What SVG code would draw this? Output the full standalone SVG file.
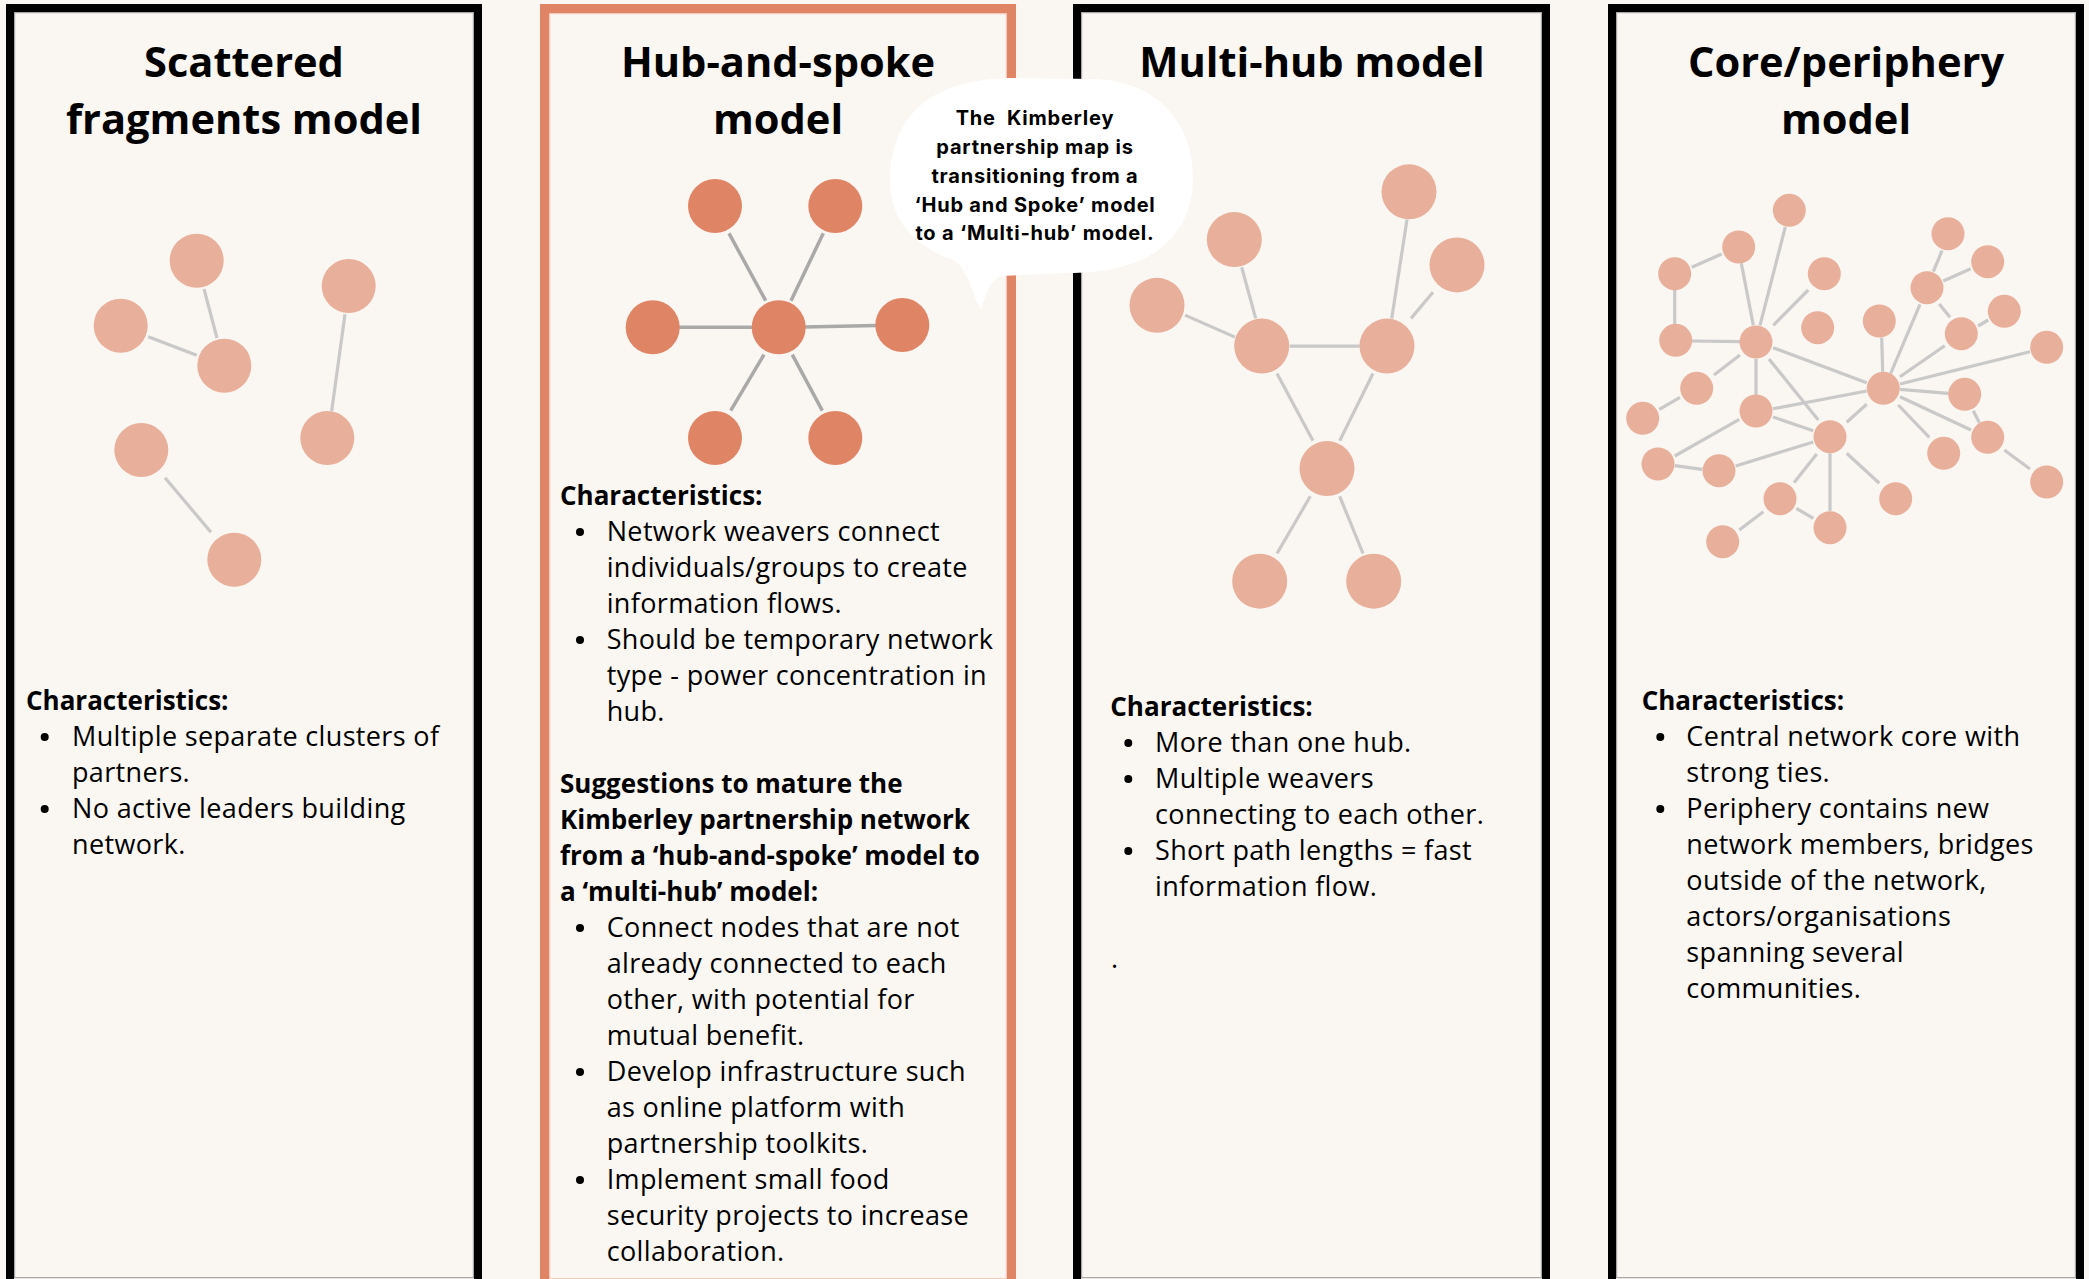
<svg xmlns="http://www.w3.org/2000/svg" width="2089" height="1279" viewBox="0 0 2089 1279">
<style>
.bg{fill:#FAF6F2}
.frame{fill:#FAF6F2;stroke:#000;stroke-width:8}
.frame2{fill:#FAF6F2;stroke:#E08466;stroke-width:9}
.inner{fill:none;stroke:#A8A8A8;stroke-width:1.2}
.inner2{fill:none;stroke:#F2C9BA;stroke-width:1.2}
.title{font-family:"Open Sans","Noto Sans",sans-serif;font-weight:700;font-size:41.6px;fill:#000;text-anchor:middle}
.body{font-family:"Open Sans","Noto Sans",sans-serif;font-size:27px;letter-spacing:0.35px;fill:#000}
.head{font-family:"Open Sans","Noto Sans",sans-serif;font-size:26px;font-weight:700;fill:#000}
.bub{font-family:Inter,"Open Sans",sans-serif;font-size:20px;font-weight:700;letter-spacing:0.8px;fill:#000;text-anchor:middle}
.n{fill:#E8AF9A}
.nd{fill:#E08466}
.e{stroke:#C9C9C9;stroke-width:3.2;fill:none}
.ed{stroke:#A9A9A9;stroke-width:3.5;fill:none}
.b{fill:#000}
</style>
<rect class="bg" x="0" y="0" width="2089" height="1279"/>

<g id="panel-scattered">
<rect class="frame" x="10" y="8" width="468" height="1300"/>
<rect class="inner" x="14.6" y="12.6" width="458.8" height="1265"/>
<text class="title" x="244" y="77">Scattered</text>
<text class="title" x="244" y="134">fragments model</text>
<g id="p1-connectors">
<line class="e" x1="204" y1="289" x2="217" y2="338"/>
<line class="e" x1="148.3" y1="336.7" x2="196.7" y2="355.3"/>
<line class="e" x1="345" y1="314.3" x2="331.7" y2="411"/>
<line class="e" x1="165" y1="477.7" x2="211" y2="532.3"/>
</g>
<g id="p1-n1"><circle class="n" cx="196.7" cy="260.7" r="27"/></g>
<g id="p1-n2"><circle class="n" cx="120.7" cy="325.7" r="27"/></g>
<g id="p1-n3"><circle class="n" cx="224.3" cy="365.7" r="27"/></g>
<g id="p1-n4"><circle class="n" cx="348.7" cy="286" r="27"/></g>
<g id="p1-n5"><circle class="n" cx="327.3" cy="438" r="27"/></g>
<g id="p1-n6"><circle class="n" cx="141.3" cy="450" r="27"/></g>
<g id="p1-n7"><circle class="n" cx="234.3" cy="559.7" r="27"/></g>
<text class="head" x="26" y="710">Characteristics:</text>
<circle class="b" cx="44.7" cy="737" r="4"/>
<circle class="b" cx="44.7" cy="809" r="4"/>
<text class="body" x="72" y="746">Multiple separate clusters of</text>
<text class="body" x="72" y="782">partners.</text>
<text class="body" x="72" y="818">No active leaders building</text>
<text class="body" x="72" y="854">network.</text>
</g>

<g id="panel-hub-spoke">
<rect class="frame2" x="544.5" y="8.5" width="467" height="1300"/>
<rect class="inner2" x="549.6" y="13.6" width="456.8" height="1265"/>
<text class="title" x="778" y="77">Hub-and-spoke</text>
<text class="title" x="778" y="134">model</text>
<g id="p2-connectors">
<line class="ed" x1="729" y1="233.3" x2="765.7" y2="300.7"/>
<line class="ed" x1="823.3" y1="233.3" x2="791" y2="300.7"/>
<line class="ed" x1="678" y1="327.3" x2="754" y2="327.3"/>
<line class="ed" x1="804" y1="327" x2="877" y2="325.5"/>
<line class="ed" x1="764" y1="354.7" x2="730.7" y2="410.7"/>
<line class="ed" x1="792.3" y1="354.7" x2="822.3" y2="410.7"/>
</g>
<g id="p2-n1"><circle class="nd" cx="715" cy="206" r="27"/></g>
<g id="p2-n2"><circle class="nd" cx="835.3" cy="206" r="27"/></g>
<g id="p2-n3"><circle class="nd" cx="652.7" cy="327.3" r="27"/></g>
<g id="p2-hub"><circle class="nd" cx="778.7" cy="327.3" r="27"/></g>
<g id="p2-n4"><circle class="nd" cx="902.3" cy="325" r="27"/></g>
<g id="p2-n5"><circle class="nd" cx="715" cy="438" r="27"/></g>
<g id="p2-n6"><circle class="nd" cx="835.3" cy="438" r="27"/></g>
<text class="head" x="560" y="505">Characteristics:</text>
<circle class="b" cx="580" cy="532" r="4"/>
<circle class="b" cx="580" cy="640" r="4"/>
<text class="body" x="606.7" y="541">Network weavers connect</text>
<text class="body" x="606.7" y="577">individuals/groups to create</text>
<text class="body" x="606.7" y="613">information flows.</text>
<text class="body" x="606.7" y="649">Should be temporary network</text>
<text class="body" x="606.7" y="685">type - power concentration in</text>
<text class="body" x="606.7" y="721">hub.</text>
<text class="head" x="560" y="793">Suggestions to mature the</text>
<text class="head" x="560" y="829">Kimberley partnership network</text>
<text class="head" x="560" y="865">from a ‘hub-and-spoke’ model to</text>
<text class="head" x="560" y="901">a ‘multi-hub’ model:</text>
<circle class="b" cx="580" cy="928" r="4"/>
<circle class="b" cx="580" cy="1072" r="4"/>
<circle class="b" cx="580" cy="1180" r="4"/>
<text class="body" x="606.7" y="937">Connect nodes that are not</text>
<text class="body" x="606.7" y="973">already connected to each</text>
<text class="body" x="606.7" y="1009">other, with potential for</text>
<text class="body" x="606.7" y="1045">mutual benefit.</text>
<text class="body" x="606.7" y="1081">Develop infrastructure such</text>
<text class="body" x="606.7" y="1117">as online platform with</text>
<text class="body" x="606.7" y="1153">partnership toolkits.</text>
<text class="body" x="606.7" y="1189">Implement small food</text>
<text class="body" x="606.7" y="1225">security projects to increase</text>
<text class="body" x="606.7" y="1261">collaboration.</text>
</g>

<g id="panel-multi-hub">
<rect class="frame" x="1077" y="8" width="469" height="1300"/>
<rect class="inner" x="1081.6" y="12.6" width="459.8" height="1265"/>
<text class="title" x="1312" y="77">Multi-hub model</text>
<g id="p3-connectors">
<line class="e" x1="1241.7" y1="267.3" x2="1255.7" y2="318.4"/>
<line class="e" x1="1185" y1="315.1" x2="1235" y2="337.1"/>
<line class="e" x1="1289.7" y1="346.1" x2="1359.7" y2="346.1"/>
<line class="e" x1="1407" y1="219.6" x2="1391.7" y2="318.4"/>
<line class="e" x1="1433" y1="292.2" x2="1411" y2="318.4"/>
<line class="e" x1="1277" y1="373.5" x2="1313" y2="440.8"/>
<line class="e" x1="1373" y1="373.5" x2="1339.7" y2="440.8"/>
<line class="e" x1="1310.3" y1="496.3" x2="1277" y2="553.5"/>
<line class="e" x1="1339.7" y1="496.3" x2="1363" y2="553.5"/>
</g>
<g id="p3-n1"><circle class="n" cx="1409" cy="191.8" r="27.5"/></g>
<g id="p3-n2"><circle class="n" cx="1457" cy="264.9" r="27.5"/></g>
<g id="p3-n3"><circle class="n" cx="1234.3" cy="239.6" r="27.5"/></g>
<g id="p3-n4"><circle class="n" cx="1157" cy="305.3" r="27.5"/></g>
<g id="p3-hubA"><circle class="n" cx="1261.7" cy="346.1" r="27.5"/></g>
<g id="p3-hubB"><circle class="n" cx="1387" cy="346.1" r="27.5"/></g>
<g id="p3-hubC"><circle class="n" cx="1327" cy="468.6" r="27.5"/></g>
<g id="p3-n5"><circle class="n" cx="1259.7" cy="581.2" r="27.5"/></g>
<g id="p3-n6"><circle class="n" cx="1373.7" cy="581.2" r="27.5"/></g>
<text class="head" x="1110.3" y="716">Characteristics:</text>
<circle class="b" cx="1128.3" cy="743" r="4"/>
<circle class="b" cx="1128.3" cy="779" r="4"/>
<circle class="b" cx="1128.3" cy="851" r="4"/>
<text class="body" x="1155" y="752">More than one hub.</text>
<text class="body" x="1155" y="788">Multiple weavers</text>
<text class="body" x="1155" y="824">connecting to each other.</text>
<text class="body" x="1155" y="860">Short path lengths = fast</text>
<text class="body" x="1155" y="896">information flow.</text>
<text class="body" x="1111" y="968">.</text>
</g>

<g id="panel-core-periphery">
<rect class="frame" x="1612" y="8" width="468" height="1300"/>
<rect class="inner" x="1616.6" y="12.6" width="458.8" height="1265"/>
<text class="title" x="1846" y="77">Core/periphery</text>
<text class="title" x="1846" y="134">model</text>
<g id="p4-connectors">
<line class="e" x1="1691.7" y1="267.3" x2="1721.7" y2="254"/>
<line class="e" x1="1674.7" y1="290" x2="1674.7" y2="324"/>
<line class="e" x1="1691.7" y1="341" x2="1740" y2="341.7"/>
<line class="e" x1="1741.3" y1="263.3" x2="1753.3" y2="325.3"/>
<line class="e" x1="1785.3" y1="227" x2="1760" y2="325.3"/>
<line class="e" x1="1808.3" y1="290" x2="1773.3" y2="325.3"/>
<line class="e" x1="1740" y1="355" x2="1714" y2="375"/>
<line class="e" x1="1680" y1="397.3" x2="1659.3" y2="409.3"/>
<line class="e" x1="1756" y1="358.7" x2="1756" y2="395"/>
<line class="e" x1="1769" y1="359" x2="1818.3" y2="420"/>
<line class="e" x1="1773" y1="347.7" x2="1866.7" y2="382.7"/>
<line class="e" x1="1773" y1="408.7" x2="1866.7" y2="391"/>
<line class="e" x1="1773" y1="417" x2="1813.3" y2="430.7"/>
<line class="e" x1="1739.3" y1="419.3" x2="1674.7" y2="456"/>
<line class="e" x1="1674.7" y1="465.7" x2="1702.3" y2="469.3"/>
<line class="e" x1="1735.7" y1="466" x2="1813.3" y2="442"/>
<line class="e" x1="1846.7" y1="422.3" x2="1866.7" y2="404.3"/>
<line class="e" x1="1816.7" y1="454" x2="1794" y2="482.7"/>
<line class="e" x1="1830" y1="453.3" x2="1830" y2="511"/>
<line class="e" x1="1846.7" y1="453.3" x2="1879.3" y2="483.3"/>
<line class="e" x1="1796.3" y1="508.3" x2="1813.3" y2="518.3"/>
<line class="e" x1="1763.3" y1="511.7" x2="1739.3" y2="530"/>
<line class="e" x1="1881.7" y1="337.7" x2="1882.7" y2="371.7"/>
<line class="e" x1="1920" y1="304.3" x2="1890.7" y2="373.3"/>
<line class="e" x1="1942" y1="250.7" x2="1933.3" y2="271.7"/>
<line class="e" x1="1943.3" y1="281" x2="1970.7" y2="268.7"/>
<line class="e" x1="1939.3" y1="304" x2="1950" y2="317.3"/>
<line class="e" x1="1978" y1="326" x2="1988.3" y2="320"/>
<line class="e" x1="1944.7" y1="345.7" x2="1900" y2="376.7"/>
<line class="e" x1="2030" y1="351.7" x2="1900" y2="384"/>
<line class="e" x1="1900" y1="389.3" x2="1948.3" y2="393.3"/>
<line class="e" x1="1973.3" y1="410.7" x2="1979.3" y2="422.7"/>
<line class="e" x1="1900" y1="396.7" x2="1971" y2="430"/>
<line class="e" x1="1898.3" y1="405" x2="1929.3" y2="437.3"/>
<line class="e" x1="2004.3" y1="450" x2="2030" y2="469"/>
</g>
<g id="p4-n1"><circle class="n" cx="1789.3" cy="210.3" r="16.5"/></g>
<g id="p4-n2"><circle class="n" cx="1738.7" cy="247" r="16.5"/></g>
<g id="p4-n3"><circle class="n" cx="1674.7" cy="273.7" r="16.5"/></g>
<g id="p4-n4"><circle class="n" cx="1824.3" cy="273.7" r="16.5"/></g>
<g id="p4-n5"><circle class="n" cx="1675.7" cy="340.3" r="16.5"/></g>
<g id="p4-n6"><circle class="n" cx="1756" cy="342" r="16.5"/></g>
<g id="p4-n7"><circle class="n" cx="1817.7" cy="327.7" r="16.5"/></g>
<g id="p4-n8"><circle class="n" cx="1879.3" cy="321" r="16.5"/></g>
<g id="p4-n9"><circle class="n" cx="1927" cy="287.7" r="16.5"/></g>
<g id="p4-n10"><circle class="n" cx="1948" cy="233.7" r="16.5"/></g>
<g id="p4-n11"><circle class="n" cx="1987.7" cy="261.7" r="16.5"/></g>
<g id="p4-n12"><circle class="n" cx="2004.3" cy="311.3" r="16.5"/></g>
<g id="p4-n13"><circle class="n" cx="1961.3" cy="333.7" r="16.5"/></g>
<g id="p4-n14"><circle class="n" cx="2046.7" cy="347.3" r="16.5"/></g>
<g id="p4-n15"><circle class="n" cx="1883.3" cy="388.3" r="16.5"/></g>
<g id="p4-n16"><circle class="n" cx="1964.7" cy="394.3" r="16.5"/></g>
<g id="p4-n17"><circle class="n" cx="1696.7" cy="388.3" r="16.5"/></g>
<g id="p4-n18"><circle class="n" cx="1642.7" cy="418.3" r="16.5"/></g>
<g id="p4-n19"><circle class="n" cx="1756" cy="411" r="16.5"/></g>
<g id="p4-n20"><circle class="n" cx="1830" cy="436.7" r="16.5"/></g>
<g id="p4-n21"><circle class="n" cx="1987.7" cy="437.3" r="16.5"/></g>
<g id="p4-n22"><circle class="n" cx="1943.7" cy="453.3" r="16.5"/></g>
<g id="p4-n23"><circle class="n" cx="1658" cy="464" r="16.5"/></g>
<g id="p4-n24"><circle class="n" cx="1719" cy="470.7" r="16.5"/></g>
<g id="p4-n25"><circle class="n" cx="1780" cy="498.7" r="16.5"/></g>
<g id="p4-n26"><circle class="n" cx="1895.7" cy="498.7" r="16.5"/></g>
<g id="p4-n27"><circle class="n" cx="1830" cy="527.7" r="16.5"/></g>
<g id="p4-n28"><circle class="n" cx="1722.7" cy="541.7" r="16.5"/></g>
<g id="p4-n29"><circle class="n" cx="2046.7" cy="482" r="16.5"/></g>
<text class="head" x="1641.7" y="710">Characteristics:</text>
<circle class="b" cx="1660.3" cy="737" r="4"/>
<circle class="b" cx="1660.3" cy="809" r="4"/>
<text class="body" x="1686.3" y="746">Central network core with</text>
<text class="body" x="1686.3" y="782">strong ties.</text>
<text class="body" x="1686.3" y="818">Periphery contains new</text>
<text class="body" x="1686.3" y="854">network members, bridges</text>
<text class="body" x="1686.3" y="890">outside of the network,</text>
<text class="body" x="1686.3" y="926">actors/organisations</text>
<text class="body" x="1686.3" y="962">spanning several</text>
<text class="body" x="1686.3" y="998">communities.</text>
</g>

<g id="speech-bubble">
<path fill="#FFFFFF" d="M953,260 C918,248 889,222 890,180 C891,120 925,80 1010,78 L1095,79 C1160,82 1193,125 1193,177 C1193,238 1150,272 1073,273 L1000,276 C990,282 985,295 981,310 C972,295 968,268 953,260 Z"/>
<text class="bub" x="1035" y="125" xml:space="preserve">The  Kimberley</text>
<text class="bub" x="1035" y="154">partnership map is</text>
<text class="bub" x="1035" y="183">transitioning from a</text>
<text class="bub" x="1035" y="212">‘Hub and Spoke’ model</text>
<text class="bub" x="1035" y="240">to a ‘Multi-hub’ model.</text>
</g>
</svg>
